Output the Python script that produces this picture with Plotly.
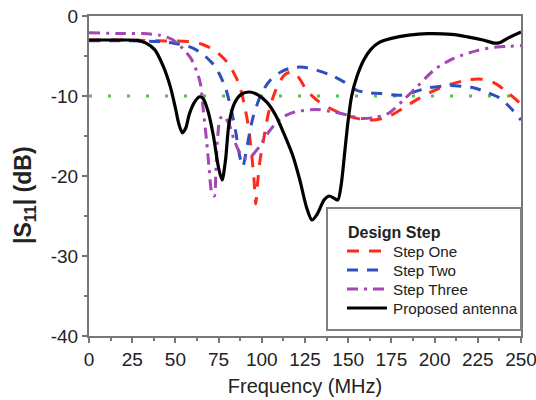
import plotly.graph_objects as go

# ---- data ----
f_one = [0, 20, 40, 57, 65, 72, 76, 80, 84, 87, 90, 92, 94, 95.5, 96.5, 97.5, 99, 101, 104, 108, 113, 117, 121, 126, 133, 140, 146, 155, 165, 173, 182, 191, 200, 210, 219, 227, 234, 242, 250]
s_one = [-3, -3, -3.1, -3.2, -3.5, -4.2, -4.9, -5.8, -7.2, -8.6, -11.2, -13.5, -17, -20.5, -23.5, -21, -18, -15.5, -12, -9.3, -7.4, -7, -7.6, -9.3, -10.7, -11.6, -12.2, -12.8, -13, -12.6, -11.5, -10.3, -9.3, -8.5, -8, -7.9, -8.3, -9.5, -11]

f_two = [0, 20, 40, 49, 56, 61, 66, 70, 73, 76, 79, 82, 85, 87, 89, 90.5, 92, 95, 100, 105, 111, 117, 124, 132, 140, 148, 155, 162, 169, 180, 188, 196, 209, 216, 223, 231, 238, 244, 250]
s_two = [-3.1, -3.1, -3.2, -3.4, -3.7, -4.1, -4.8, -5.6, -6.3, -7.5, -9, -11.4, -14.6, -17.3, -18.8, -17.5, -15.7, -12.6, -9.6, -8, -7, -6.5, -6.4, -6.8, -7.4, -8.3, -9.3, -9.6, -9.7, -9.9, -9.5, -9, -8.7, -8.8, -9, -9.6, -10.3, -11.5, -13]

f_three = [0, 20, 31, 41, 48, 53, 56, 59, 62.5, 64.5, 66, 68, 69.5, 71, 72.5, 73.5, 74.5, 76, 78, 81, 84, 87, 90, 94, 98, 104, 111, 119, 132, 142, 150, 157, 165, 173, 182, 190, 200, 211, 225, 235, 242, 250]
s_three = [-2.1, -2.2, -2.2, -2.4, -2.9, -3.8, -4.5, -5.3, -7, -8.5, -11.5, -15.5, -19, -22, -22.5, -19, -15, -12.8, -12.5, -13.5, -15.5, -17, -17.8, -17.5, -16.5, -14.5, -12.8, -12, -11.7, -12, -12.4, -12.8, -12.7, -12.2, -10.5, -8.8, -6.7, -5.3, -4.3, -3.9, -3.8, -3.7]

f_prop = [0, 10, 20, 28, 33, 38, 43, 47, 50, 52, 54, 56, 58, 61, 64, 66, 69, 72, 75, 77, 79, 81, 84, 88, 93, 98, 103, 108, 113, 118, 122, 126, 129, 132, 136, 139, 142, 144, 146, 148, 150, 152, 155, 159, 163, 168, 175, 185, 196, 210, 219, 228, 235, 238, 243, 250]
s_prop = [-3, -3, -3, -3.05, -3.4, -4.2, -6.3, -8.8, -11.5, -13.5, -14.6, -14, -12.3, -10.8, -10.1, -10.3, -12, -15, -19, -20.5, -18, -13.5, -11, -9.8, -9.5, -9.9, -10.8, -12.4, -14.8, -17.5, -20.5, -24, -25.5, -24.8, -23, -22.5, -22.8, -23, -21, -17, -13, -10, -7.6, -5.5, -4.2, -3.3, -2.8, -2.4, -2.2, -2.3, -2.6, -3, -3.4, -3.3, -2.7, -2.0]

f_ref = [0, 250]
s_ref = [-10, -10]

series_names = ["Step One", "Step Two", "Step Three", "Proposed antenna"]
legend_title = "Design Step"

x_ticks = [0, 25, 50, 75, 100, 125, 150, 175, 200, 225, 250]
y_ticks = [0, -10, -20, -30, -40]

# ---- styles ----
W, H = 536, 400
ML, MR, MT, MB = 89, 15, 16, 64
PW, PH = W - ML - MR, H - MT - MB

styles = [
    dict(color="#ff2a1a", width=3, dash="12px,10px"),
    dict(color="#2f4fbf", width=3, dash="11px,9px"),
    dict(color="#a447b4", width=3, dash="11px,6px,3px,6px"),
    dict(color="#000000", width=3.2, dash="solid"),
]
series = [(f_one, s_one), (f_two, s_two), (f_three, s_three), (f_prop, s_prop)]

def px_x(p):
    return (p - ML) / PW

def px_y(p):
    return (H - MB - p) / PH

fig = go.Figure()
fig.add_trace(go.Scatter(x=f_ref, y=s_ref, mode="lines", showlegend=False, hoverinfo="skip",
                         line=dict(color="#58c040", width=3, dash="3px,16px")))
for (fx, sy), name, st in zip(series, series_names, styles):
    fig.add_trace(go.Scatter(x=fx, y=sy, mode="lines", name=name, showlegend=False,
                             line=dict(color=st["color"], width=st["width"], dash=st["dash"],
                                       shape="spline", smoothing=0.8)))

# ---- legend box (drawn manually to match spacing) ----
shapes = [dict(type="rect", xref="paper", yref="paper",
               x0=px_x(327), x1=px_x(521), y0=px_y(330), y1=px_y(208),
               fillcolor="white", line=dict(color="#808080", width=2), layer="above")]
annotations = [dict(text="<b>" + legend_title + "</b>", xref="paper", yref="paper",
                    x=px_x(346), y=px_y(232), xanchor="left", yanchor="middle", showarrow=False,
                    font=dict(size=16, color="#222222"))]
item_y = [251, 270, 289, 308]
for name, st, yy in zip(series_names, styles, item_y):
    shapes.append(dict(type="line", xref="paper", yref="paper", x0=px_x(347), x1=px_x(387),
                       y0=px_y(yy), y1=px_y(yy), layer="above",
                       line=dict(color=st["color"], width=st["width"], dash=st["dash"])))
    annotations.append(dict(text=name, xref="paper", yref="paper", x=px_x(391), y=px_y(yy),
                            xanchor="left", yanchor="middle", showarrow=False,
                            font=dict(size=15.2, color="#222222")))

# y axis title as annotation for exact placement
annotations.append(dict(text="<b>|S<sub>11</sub>| (dB)</b>", xref="paper", yref="paper",
                        x=px_x(24), y=px_y(195), xanchor="center", yanchor="middle",
                        textangle=-90, showarrow=False, font=dict(size=23, color="#222222")))

fig.update_layout(
    width=W, height=H,
    margin=dict(l=ML, r=MR, t=MT, b=MB, autoexpand=False),
    paper_bgcolor="white", plot_bgcolor="white",
    font=dict(family="Liberation Sans, Arial, sans-serif", color="#222222"),
    showlegend=False,
    shapes=shapes, annotations=annotations,
)
fig.update_xaxes(range=[0, 250], tickvals=x_ticks, ticktext=[str(v) for v in x_ticks],
                 showgrid=False, zeroline=False, showline=True, linecolor="#777777", linewidth=2,
                 mirror=True, ticks="outside", ticklen=5, tickwidth=2, tickcolor="#777777",
                 minor=dict(dtick=12.5, ticks="outside", ticklen=3, tickwidth=2, tickcolor="#777777"),
                 tickfont=dict(size=19), ticklabeloverflow="allow", automargin=False,
                 title=dict(text="Frequency (MHz)", font=dict(size=20), standoff=10))
fig.update_yaxes(range=[-40, 0], tickvals=y_ticks, ticktext=[str(v) for v in y_ticks],
                 showgrid=False, zeroline=False, showline=True, linecolor="#777777", linewidth=2,
                 mirror=True, ticks="outside", ticklen=5, tickwidth=2, tickcolor="#777777",
                 minor=dict(dtick=5, ticks="outside", ticklen=3, tickwidth=2, tickcolor="#777777"),
                 tickfont=dict(size=19), ticklabeloverflow="allow", automargin=False)

fig.write_html("out.html")
